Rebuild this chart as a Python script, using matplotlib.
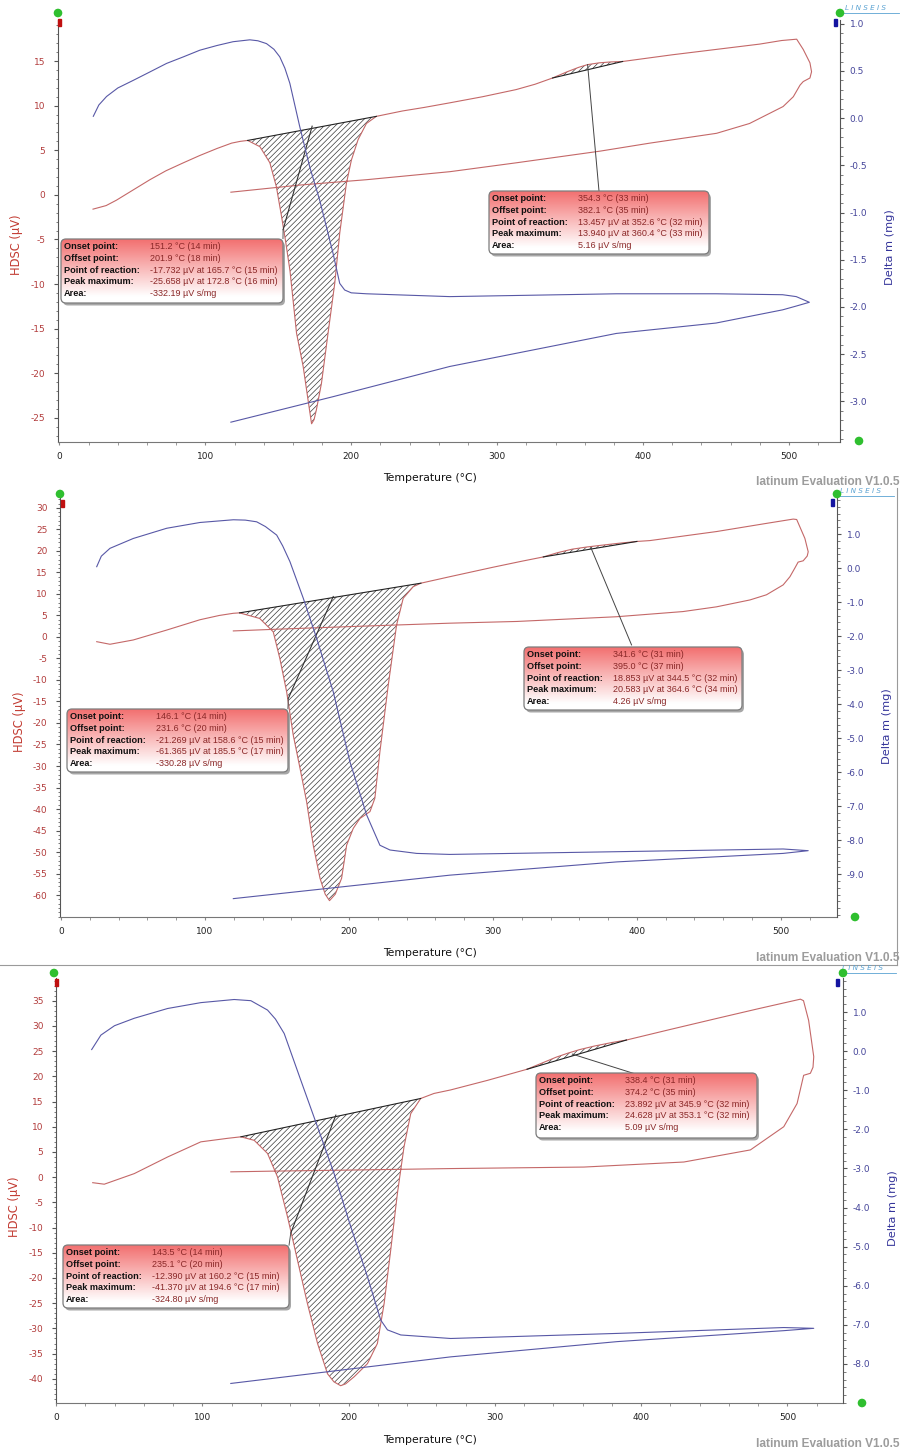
import numpy as np
import matplotlib
matplotlib.use("Agg")
import matplotlib.pyplot as plt
from matplotlib.patches import FancyBboxPatch, Rectangle, Circle
from matplotlib.ticker import MultipleLocator, FormatStrFormatter

plt.rcParams['font.family'] = ['DejaVu Sans']
plt.rcParams['axes.unicode_minus'] = False
plt.rcParams['hatch.linewidth'] = 0.5

# ---------------- panel 1 ----------------
p1_rise_T = [23, 32, 39, 50, 62, 73, 85, 96, 108, 118, 124, 129]
p1_rise_V = [-1.6, -1.2, -0.6, 0.5, 1.7, 2.7, 3.6, 4.4, 5.2, 5.8, 6.0, 6.1]
p1_endo_T = [129, 137.4, 144.2, 148.7, 152.2, 155, 158, 162.5, 167, 170.4, 172.8, 174.5,
             176.1, 179.6, 184.1, 188.7, 192.1, 196.7, 200.1, 204.7, 210.4, 217.2]
p1_endo_V = [6.1, 5.4, 3.6, 0.9, -2.4, -5.2, -8.5, -15.5, -19.2, -23.0, -25.66, -25.2,
             -24.1, -21.1, -15.5, -9.9, -4.3, 1.3, 3.9, 6.2, 8.0, 8.8]
p1_mid_T = [217.2, 235, 250, 267, 290, 313, 326, 338]
p1_mid_V = [8.8, 9.4, 9.8, 10.3, 11.0, 11.8, 12.4, 13.1]
p1_exo_T = [338, 348, 356, 362, 370, 378, 386]
p1_exo_V = [13.1, 13.8, 14.3, 14.6, 14.8, 14.9, 14.95]
p1_top_T = [386, 420, 450, 480, 495, 505.3, 509.8, 514.4, 515.5, 514.4, 509.8, 507.6, 503,
            496, 473, 450.4, 404.7, 370.5, 313.4, 267.7, 210.5, 164.8, 117.5]
p1_top_V = [14.95, 15.7, 16.3, 16.9, 17.3, 17.45, 16.3, 14.8, 13.8, 13.1, 12.7, 12.3, 11.0,
            9.9, 8.0, 6.9, 5.8, 4.9, 3.6, 2.6, 1.7, 1.1, 0.3]
p1_tg_T = [23.2, 27, 32.3, 40, 50.5, 62, 73.4, 85, 96.2, 108, 119, 130.5, 136, 141.9, 147,
           151, 154.5, 157.9, 164.7, 171.6, 178.4, 187.5, 192.1, 195.5, 200, 210.4, 267.5,
           381.7, 450, 495.7, 505, 514, 505, 495.7, 450, 381.7, 267.5, 187.5, 117.5]
p1_tg_V = [0.02, 0.14, 0.23, 0.32, 0.40, 0.49, 0.58, 0.65, 0.72, 0.77, 0.81, 0.83, 0.82, 0.79,
           0.73, 0.65, 0.53, 0.37, -0.09, -0.52, -0.87, -1.43, -1.75, -1.82, -1.85, -1.86,
           -1.89, -1.86, -1.86, -1.87, -1.89, -1.95, -1.99, -2.03, -2.17, -2.28, -2.63, -2.95, -3.22]
p1_tangent = [(153.3, -3.9), (173.2, 7.7)]
p1_left_values = ["151.2 °C (14 min)", "201.9 °C (18 min)", "-17.732 µV at 165.7 °C (15 min)",
                  "-25.658 µV at 172.8 °C (16 min)", "-332.19 µV s/mg"]
p1_right_values = ["354.3 °C (33 min)", "382.1 °C (35 min)", "13.457 µV at 352.6 °C (32 min)",
                   "13.940 µV at 360.4 °C (33 min)", "5.16 µV s/mg"]

# ---------------- panel 2 ----------------
p2_rise_T = [24.8, 34, 50.2, 73.4, 96.5, 110, 119.7, 124]
p2_rise_V = [-1.1, -1.7, -0.7, 1.6, 4.0, 5.0, 5.5, 5.6]
p2_endo_T = [124, 138, 147.4, 152, 156.7, 161.3, 166, 170.6, 175.2, 179.9, 183.5, 186.5,
             190.5, 194.9, 198.4, 203, 207.6, 214.6, 218, 221.5, 227.3, 233.1, 237.7, 244.7, 250]
p2_endo_V = [5.6, 4.3, 1.2, -5.0, -12.7, -22.8, -30.5, -38.3, -48.4, -56.1, -59.8, -61.3,
             -59.8, -56.1, -48.4, -44.5, -42.2, -40.6, -37.5, -26.7, -11.2, 2.8, 9.0, 11.7, 12.5]
p2_mid_T = [250, 270, 300, 320, 335]
p2_mid_V = [12.5, 14.0, 16.2, 17.6, 18.6]
p2_exo_T = [335, 345, 355, 365, 375, 388, 400]
p2_exo_V = [18.6, 19.6, 20.4, 20.9, 21.3, 21.8, 22.2]
p2_top_T = [400, 409, 455.3, 490, 508.6, 511, 516.7, 519, 518.3, 515.5, 512, 509.7, 506.3,
            501.6, 490, 478.5, 455.3, 432, 386, 316.5, 270, 200, 150, 119.7]
p2_top_V = [22.2, 22.4, 24.5, 26.4, 27.4, 27.3, 22.9, 19.8, 18.8, 17.7, 17.4, 16.0, 14.0,
            12.1, 9.8, 8.6, 7.0, 5.9, 4.7, 3.6, 3.2, 2.4, 1.8, 1.4]
p2_tg_T = [24.8, 28, 34, 50.2, 73.4, 96.5, 119.7, 128, 135.9, 142, 149.8, 154, 159, 168.3,
           177.6, 189.1, 200.7, 212.3, 221.5, 228.5, 247, 270, 386, 501.6, 519, 501.6, 386,
           270, 119.7]
p2_tg_V = [0.04, 0.35, 0.58, 0.87, 1.17, 1.34, 1.42, 1.41, 1.36, 1.22, 0.97, 0.65, 0.19,
           -0.89, -2.07, -3.64, -5.70, -7.26, -8.15, -8.29, -8.39, -8.42, -8.34, -8.26, -8.31,
           -8.39, -8.64, -9.03, -9.72]
p2_tangent = [(157.9, -14.3), (189.1, 9.4)]
p2_left_values = ["146.1 °C (14 min)", "231.6 °C (20 min)", "-21.269 µV at 158.6 °C (15 min)",
                  "-61.365 µV at 185.5 °C (17 min)", "-330.28 µV s/mg"]
p2_right_values = ["341.6 °C (31 min)", "395.0 °C (37 min)", "18.853 µV at 344.5 °C (32 min)",
                   "20.583 µV at 364.6 °C (34 min)", "4.26 µV s/mg"]

# ---------------- panel 3 ----------------
p3_rise_T = [25.1, 33, 53.5, 76.3, 99, 117.3, 126.4]
p3_rise_V = [-1.1, -1.4, 0.7, 4.0, 7.0, 7.7, 8.0]
p3_endo_T = [126.4, 135.5, 144.6, 151.4, 158.3, 165.1, 171.9, 178.8, 185.6, 190, 194.6, 198,
             203.8, 212.9, 219.7, 224.3, 228.8, 233.4, 237.9, 242.5, 249.3]
p3_endo_V = [8.0, 7.3, 4.7, 0.06, -7.9, -16.5, -25.1, -33.0, -39.0, -40.6, -41.37, -41.0,
             -39.6, -37.0, -33.0, -25.1, -14.5, -3.2, 6.0, 12.6, 15.6]
p3_mid_T = [249.3, 258.4, 269.8, 295, 322]
p3_mid_V = [15.6, 16.6, 17.3, 19.2, 21.4]
p3_exo_T = [322, 332, 342, 350, 358, 368, 380, 390]
p3_exo_V = [21.4, 22.6, 23.8, 24.6, 25.3, 26.0, 26.7, 27.2]
p3_top_T = [390, 420, 452, 480, 508.9, 511, 514.5, 518, 517.5, 515.7, 511.1, 506.6, 497.5,
            474.7, 429.2, 360.9, 269.8, 200, 150, 119.5]
p3_top_V = [27.2, 29.3, 31.5, 33.4, 35.3, 35.0, 31.1, 23.9, 21.8, 20.6, 20.2, 14.6, 10.0,
            5.4, 3.0, 2.0, 1.7, 1.4, 1.2, 1.05]
p3_tg_T = [24.4, 30.7, 40, 53.5, 76.3, 99, 121.8, 133.2, 144.6, 150, 156, 167.3, 178.8,
           190.1, 201.5, 212.9, 222, 226.6, 235.7, 269.8, 383.7, 497.5, 518, 497.5, 383.7,
           269.8, 119.5]
p3_tg_V = [0.04, 0.41, 0.65, 0.84, 1.09, 1.24, 1.32, 1.29, 1.05, 0.82, 0.45, -0.74, -1.94,
           -3.13, -4.49, -5.77, -6.88, -7.13, -7.26, -7.35, -7.22, -7.07, -7.09, -7.15, -7.43,
           -7.82, -8.5]
p3_tangent = [(160.5, -11.1), (191.3, 12.3)]
p3_left_values = ["143.5 °C (14 min)", "235.1 °C (20 min)", "-12.390 µV at 160.2 °C (15 min)",
                  "-41.370 µV at 194.6 °C (17 min)", "-324.80 µV s/mg"]
p3_right_values = ["338.4 °C (31 min)", "374.2 °C (35 min)", "23.892 µV at 345.9 °C (32 min)",
                   "24.628 µV at 353.1 °C (32 min)", "5.09 µV s/mg"]

box_labels = ["Onset point:", "Offset point:", "Point of reaction:", "Peak maximum:", "Area:"]

RED = '#c46868'
BLUE = '#5858a6'
TICK_RED = '#b23c3c'
TICK_BLUE = '#45459a'

W, H = 904, 1454
fig = plt.figure(figsize=(W / 100, H / 100), dpi=100)


def px_rect(l, r, t, b):
    return [l / W, 1 - b / H, (r - l) / W, (b - t) / H]


def panel(rect, xlim, ylim_l, ylim_r, tick_l, tick_r, minor_r,
          rise, endo, mid, exo, top, tg, tangent, left_link, right_link):
    ax = fig.add_axes(rect)
    ax2 = ax.twinx()
    ax.set_xlim(*xlim)
    ax.set_ylim(*ylim_l)
    ax2.set_ylim(*ylim_r)

    T = rise[0] + endo[0][1:] + mid[0][1:] + exo[0][1:] + top[0][1:]
    V = rise[1] + endo[1][1:] + mid[1][1:] + exo[1][1:] + top[1][1:]

    # hatched peak areas, closed along the straight baseline
    for seg in (endo, exo):
        ax.fill(seg[0], seg[1], facecolor='none', edgecolor='#3a3a3a', hatch='//////',
                linewidth=0, zorder=1)
        ax.plot([seg[0][0], seg[0][-1]], [seg[1][0], seg[1][-1]], color='#222222',
                lw=0.8, zorder=3)
    ax.plot(T, V, color=RED, lw=0.8, zorder=2)
    ax.plot([tangent[0][0], tangent[1][0]], [tangent[0][1], tangent[1][1]],
            color='#333333', lw=0.8, zorder=3)
    ax.plot([left_link[0][0], left_link[1][0]], [left_link[0][1], left_link[1][1]],
            color='#555555', lw=0.7, zorder=3)
    ax.plot([right_link[0][0], right_link[1][0]], [right_link[0][1], right_link[1][1]],
            color='#444444', lw=0.7, zorder=3)
    ax2.plot(tg[0], tg[1], color=BLUE, lw=0.8)

    ax.set_yticks(tick_l)
    ax2.set_yticks(tick_r)
    ax.yaxis.set_minor_locator(MultipleLocator(1))
    ax2.yaxis.set_minor_locator(MultipleLocator(minor_r))
    ax2.yaxis.set_major_formatter(FormatStrFormatter('%.1f'))
    ax.set_xticks([0, 100, 200, 300, 400, 500])
    ax.xaxis.set_minor_locator(MultipleLocator(20))

    for s in ('top', 'right'):
        ax.spines[s].set_visible(False)
    for s in ('top', 'left', 'bottom'):
        ax2.spines[s].set_visible(False)
    ax.spines['left'].set_color('#555555')
    ax.spines['bottom'].set_color('#777777')
    ax2.spines['right'].set_color('#555555')

    ax.tick_params(axis='y', which='major', length=3, pad=6, labelsize=6.5,
                   labelcolor=TICK_RED, color='#555555')
    ax.tick_params(axis='y', which='minor', length=1.8, color='#666666')
    ax.tick_params(axis='x', which='both', length=2.5, pad=5, labelsize=6.5,
                   labelcolor='#222222', color='#888888')
    ax2.tick_params(axis='y', which='major', length=3, pad=4, labelsize=6.5,
                    labelcolor=TICK_BLUE, color='#555555')
    ax2.tick_params(axis='y', which='minor', length=1.8, color='#666666')
    return ax, ax2


panel(px_rect(58, 840, 20, 442), (-1, 535), (-27.7, 19.6), (-3.43, 1.04),
      np.arange(-25, 16, 5), np.arange(-3.0, 1.01, 0.5), 0.1,
      (p1_rise_T, p1_rise_V), (p1_endo_T, p1_endo_V), (p1_mid_T, p1_mid_V),
      (p1_exo_T, p1_exo_V), (p1_top_T, p1_top_V), (p1_tg_T, p1_tg_V), p1_tangent,
      [(153.2, -4.9), p1_tangent[0]], [(362, 14.6), (369.8, 0.45)])

panel(px_rect(60, 837, 498, 917), (-0.7, 539), (-65.1, 32.3), (-10.26, 2.06),
      np.arange(-60, 31, 5), np.arange(-9.0, 1.01, 1.0), 0.2,
      (p2_rise_T, p2_rise_V), (p2_endo_T, p2_endo_V), (p2_mid_T, p2_mid_V),
      (p2_exo_T, p2_exo_V), (p2_top_T, p2_top_V), (p2_tg_T, p2_tg_V), p2_tangent,
      [(157.6, -16.7), p2_tangent[0]], [(368, 20.8), (396.3, -1.86)])

panel(px_rect(56, 843, 978, 1403), (0, 538), (-44.8, 39.5), (-9.0, 1.87),
      np.arange(-40, 36, 5), np.arange(-8.0, 1.01, 1.0), 0.2,
      (p3_rise_T, p3_rise_V), (p3_endo_T, p3_endo_V), (p3_mid_T, p3_mid_V),
      (p3_exo_T, p3_exo_V), (p3_top_T, p3_top_V), (p3_tg_T, p3_tg_V), p3_tangent,
      [(159.3, -13.5), p3_tangent[0]], [(353, 24.4), (394.6, 20.6)])

# overlay in image pixel coordinates (y downwards)
ov = fig.add_axes([0, 0, 1, 1])
ov.axis('off')

t = np.linspace(0, 1, 60)
g = np.clip(t / 0.9, 0, 1)
top_col = np.array([0.95, 0.44, 0.44])
BOX_GRAD = (top_col[None, :] * (1 - g[:, None]) + g[:, None])[:, None, :]


def note_box(x0, x1, y0, y1, values):
    w, h = x1 - x0, y1 - y0
    style = "round,pad=0,rounding_size=5"
    ov.add_patch(FancyBboxPatch((x0 + 2, y0 + 2.5), w, h, boxstyle=style, fc='#8a8a8a',
                                ec='none', alpha=0.75, zorder=2))
    face = FancyBboxPatch((x0, y0), w, h, boxstyle=style, fc='white', ec='none', zorder=3)
    ov.add_patch(face)
    im = ov.imshow(BOX_GRAD, extent=[x0, x1, y1, y0], aspect='auto',
                   interpolation='bilinear', zorder=3.5)
    im.set_clip_path(face)
    ov.add_patch(FancyBboxPatch((x0, y0), w, h, boxstyle=style, fc='none', ec='#7c7c7c',
                                lw=0.9, zorder=4))
    for i, (lab, val) in enumerate(zip(box_labels, values)):
        yy = y0 + 7.5 + i * 11.8
        ov.text(x0 + 3, yy, lab, fontsize=6.6, weight='bold', color='#111111',
                family='Liberation Sans', va='center', ha='left', zorder=5)
        ov.text(x0 + 89, yy, val, fontsize=6.5, color='#8a2828',
                family='Liberation Sans', va='center', ha='left', zorder=5)


note_box(61, 283, 239, 303, p1_left_values)
note_box(489, 709, 191, 254, p1_right_values)
note_box(67, 288, 709, 772, p2_left_values)
note_box(524, 742, 647, 710, p2_right_values)
note_box(63, 289, 1245, 1308, p3_left_values)
note_box(536, 757, 1073, 1138, p3_right_values)

# axis titles, watermark and small decorations
hdsc_pos = [(17, 245), (20, 722), (15, 1207)]
dm_pos = [(890, 247), (887, 726), (893, 1208)]
temp_y = [478, 953, 1440]
mark_y = [482, 958, 1444]
for (hx, hy), (dx, dy), ty, my in zip(hdsc_pos, dm_pos, temp_y, mark_y):
    ov.text(hx, hy, "HDSC (µV)", rotation=90, fontsize=8.3, color='#c23b32',
            ha='center', va='center')
    ov.text(dx, dy, "Delta m (mg)", rotation=90, fontsize=8.2, color='#34349a',
            ha='center', va='center')
    ov.text(430, ty, "Temperature (°C)", fontsize=7.8, color='#111111',
            ha='center', va='center')
    ov.text(900, my, "latinum Evaluation V1.0.5", fontsize=8.6, weight='bold',
            color='#9c9c9c', family='Liberation Sans', ha='right', va='center')

green_dots = [(58, 13), (840, 13), (859, 441), (60, 494), (837, 494), (855, 917),
              (54, 973), (843, 973), (862, 1403)]
for x, y in green_dots:
    ov.add_patch(Circle((x, y), 3.6, color='#2fbf2f', zorder=6))
for x, y in [(60, 22), (63, 503), (57, 982)]:
    ov.add_patch(Rectangle((x - 1.5, y - 3.5), 3, 7, color='#c01010', zorder=6))
for x, y in [(836, 22), (833, 502), (838, 982)]:
    ov.add_patch(Rectangle((x - 1.5, y - 3.5), 3, 7, color='#1414a0', zorder=6))
for x, y in [(845, 8), (840, 491), (842, 968)]:
    ov.text(x, y, "L I N S E I S", fontsize=5.2, style='italic', color='#5aa2d2',
            ha='left', va='center')
    ov.plot([x - 2, x + 54], [y + 4.5, y + 4.5], color='#5aa2d2', lw=0.6)

ov.plot([0, 897], [965, 965], color='#9a9a9a', lw=0.8)
ov.plot([897, 897], [488, 965], color='#9a9a9a', lw=0.8)

ov.set_xlim(0, W)
ov.set_ylim(H, 0)

fig.savefig("out.png", dpi=100)
